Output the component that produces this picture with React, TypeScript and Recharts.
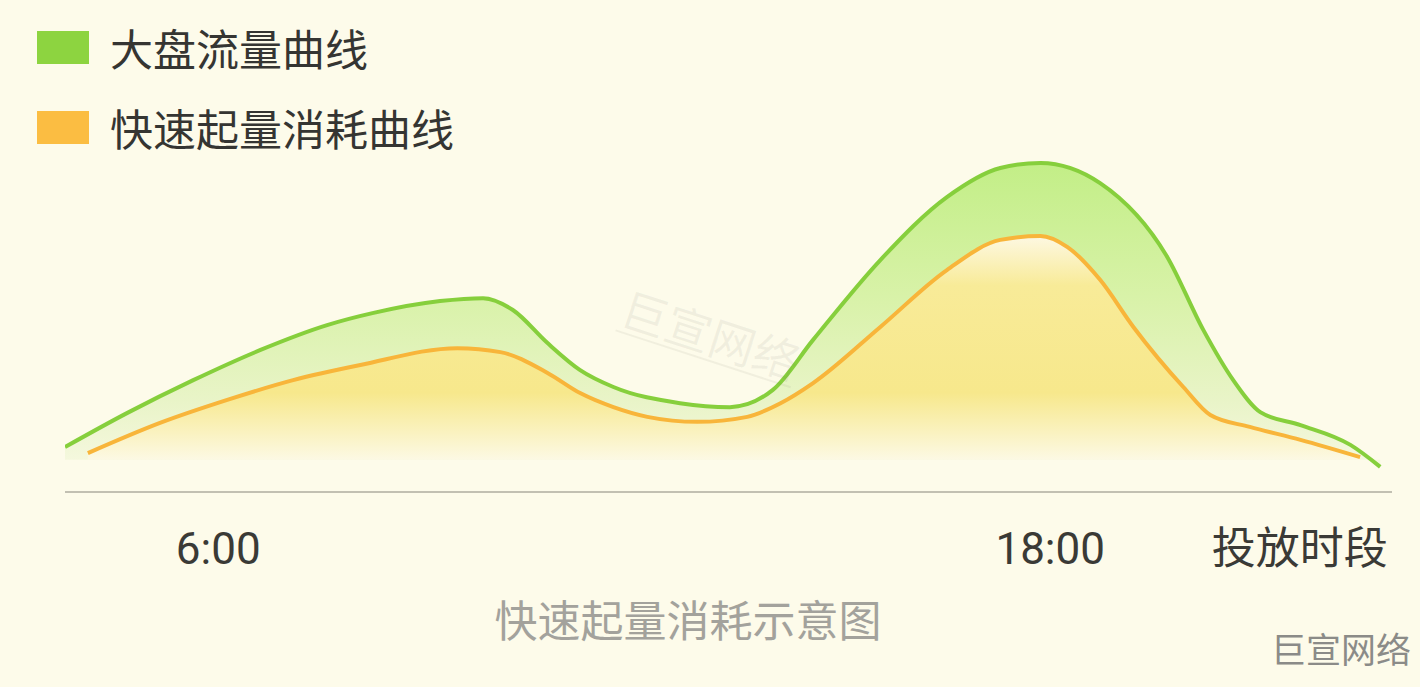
import React from "react";
import { ComposedChart, Area, XAxis, YAxis } from "recharts";

// hours of the day vs. relative volume
const trafficHours = [3.79, 4.69, 5.64, 6.61, 7.57, 8.24, 9.2, 9.82, 10.25, 10.75, 11.22, 11.7, 12.66, 13.38, 14.0, 14.58, 15.55, 16.51, 17.28, 17.86, 18.72, 19.69, 20.21, 20.64, 21.03, 21.61, 22.33, 22.76];
const trafficValues = [3.5, 13.0, 22.1, 30.5, 37.4, 40.8, 44.1, 44.9, 41.6, 32.4, 24.9, 20.2, 15.7, 14.6, 19.4, 33.3, 55.5, 73.0, 81.1, 82.5, 76.9, 56.3, 36.0, 22.1, 13.2, 9.6, 4.1, -2.0];

const spendHours = [4.12, 5.16, 6.13, 7.08, 8.05, 9.45, 10.07, 10.75, 11.22, 11.7, 12.19, 12.91, 13.63, 14.11, 14.58, 15.55, 16.51, 17.28, 17.86, 18.25, 18.72, 19.2, 19.92, 20.31, 20.88, 21.61, 22.47];
const spendValues = [1.8, 10.2, 16.6, 22.1, 26.3, 31.0, 29.9, 24.1, 18.5, 14.6, 11.9, 10.5, 11.9, 15.7, 21.3, 36.9, 52.7, 61.1, 62.2, 59.1, 50.0, 36.9, 20.2, 12.4, 9.1, 5.5, 0.7];

const seriesNames = ["大盘流量曲线", "快速起量消耗曲线"];
const seriesColors = ["#86cf3c", "#f8b53a"];
const legendSwatches = ["#8dd440", "#fbbd42"];

const tickValues = [6, 18, 21.6];
const tickLabels = ["6:00", "18:00", "投放时段"];

const caption = "快速起量消耗示意图";
const watermark = "巨宣网络";

const trafficData = trafficHours.map((h, i) => ({ h, v: trafficValues[i] }));
const spendData = spendHours.map((h, i) => ({ h, v: spendValues[i] }));

const CJK = "'Noto Sans CJK SC', sans-serif";
const MIXED = "Roboto, 'Noto Sans CJK SC', sans-serif";

function Tick(props: any) {
  const { x, y, payload } = props;
  const idx = tickValues.indexOf(payload.value);
  return (
    <text x={x} y={y + 72} textAnchor="middle" fontSize={44} fill="#3a3a36" fontFamily={MIXED}>
      {tickLabels[idx]}
    </text>
  );
}

export default function App() {
  return (
    <div style={{ position: "relative", width: 1420, height: 687, background: "#fdfbea", overflow: "hidden" }}>
      <style>{"body{margin:0}"}</style>

      {/* legend */}
      {seriesNames.map((name, i) => (
        <div
          key={name}
          style={{
            position: "absolute",
            left: 37,
            top: 24 + i * 80,
            height: 46,
            display: "flex",
            alignItems: "center",
            fontFamily: CJK,
            fontSize: 43,
            color: "#353532",
          }}
        >
          <span style={{ display: "inline-block", width: 52, height: 33, background: legendSwatches[i], marginRight: 21 }} />
          {name}
        </div>
      ))}

      <ComposedChart
        width={1420}
        height={687}
        margin={{ top: 100, right: 28, bottom: 135, left: 65 }}
        style={{ position: "absolute", left: 0, top: 0 }}
      >
        <defs>
          <linearGradient id="gTraffic" gradientUnits="userSpaceOnUse" x1="0" y1="160" x2="0" y2="462">
            <stop offset="0" stopColor="#c2ee86" />
            <stop offset="0.45" stopColor="#d8f2a8" />
            <stop offset="0.8" stopColor="#e9f4c8" />
            <stop offset="1" stopColor="#f5f8de" />
          </linearGradient>
          <linearGradient id="gSpend" gradientUnits="userSpaceOnUse" x1="0" y1="236" x2="0" y2="460">
            <stop offset="0" stopColor="#fdf8e2" />
            <stop offset="0.22" stopColor="#f8eb98" />
            <stop offset="0.7" stopColor="#f7e88c" />
            <stop offset="1" stopColor="#fcf9e4" />
          </linearGradient>
        </defs>
        <XAxis
          dataKey="h"
          type="number"
          domain={[3.79, 22.93]}
          allowDataOverflow
          ticks={tickValues}
          tick={<Tick />}
          tickLine={false}
          tickSize={0}
          tickMargin={0}
          height={60}
          axisLine={{ stroke: "#c2c0b2", strokeWidth: 2 }}
        />
        <YAxis hide width={0} type="number" domain={[-9, 100]} allowDataOverflow />
        <Area
          data={trafficData}
          dataKey="v"
          name={seriesNames[0]}
          type="monotone"
          baseValue={0}
          stroke={seriesColors[0]}
          strokeWidth={4}
          fill="url(#gTraffic)"
          fillOpacity={1}
          isAnimationActive={false}
        />
        <Area
          data={spendData}
          dataKey="v"
          name={seriesNames[1]}
          type="monotone"
          baseValue={0}
          stroke={seriesColors[1]}
          strokeWidth={4}
          fill="url(#gSpend)"
          fillOpacity={1}
          isAnimationActive={false}
        />
      </ComposedChart>

      {/* faint diagonal watermark */}
      <div
        style={{
          position: "absolute",
          left: 632,
          top: 280,
          fontFamily: CJK,
          fontSize: 46,
          color: "rgba(120,120,110,0.09)",
          borderBottom: "2px solid rgba(120,120,110,0.09)",
          transform: "rotate(18deg)",
          transformOrigin: "left top",
          lineHeight: "52px",
          whiteSpace: "nowrap",
        }}
      >
        {watermark}
      </div>

      <div
        style={{
          position: "absolute",
          left: 0,
          width: 1376,
          top: 588,
          textAlign: "center",
          fontFamily: CJK,
          fontSize: 43,
          color: "#a3a29c",
          lineHeight: "60px",
        }}
      >
        {caption}
      </div>

      <div
        style={{
          position: "absolute",
          left: 1271,
          top: 624,
          fontFamily: CJK,
          fontSize: 35,
          color: "#8b8b88",
          lineHeight: "48px",
          whiteSpace: "nowrap",
        }}
      >
        {watermark}
      </div>
    </div>
  );
}
